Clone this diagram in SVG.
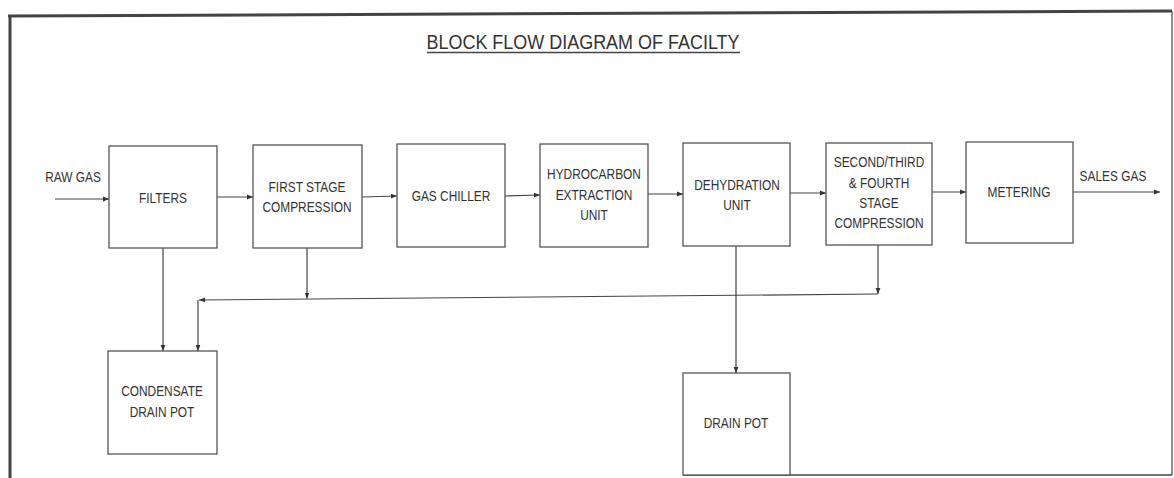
<svg xmlns="http://www.w3.org/2000/svg" width="1174" height="478" viewBox="0 0 1174 478">
<style>
  .box { fill: #ffffff; stroke: #555555; stroke-width: 1.3; }
  .lbl { font-family: "Liberation Sans", Arial, sans-serif; font-size: 14px; fill: #333333; text-anchor: middle; }
  .conn { fill: none; stroke: #444444; stroke-width: 1.2; marker-end: url(#arr); }
  .frame { fill: none; stroke: #444444; }
</style>
<defs>
  <marker id="arr" viewBox="0 0 10 10" refX="10" refY="5" markerWidth="6" markerHeight="6" markerUnits="userSpaceOnUse" orient="auto">
    <path d="M0,1 L10,5 L0,9 Z" fill="#333333"/>
  </marker>
</defs>
<rect width="1174" height="478" fill="#ffffff"/>
<g id="frame">
  <line class="frame" x1="8" y1="16" x2="1172" y2="11" stroke-width="3"/>
  <line class="frame" x1="10" y1="15" x2="10" y2="478" stroke-width="3"/>
  <line class="frame" x1="1172" y1="11" x2="1172" y2="475" stroke-width="1.2"/>
  <line class="frame" x1="683" y1="475" x2="1172" y2="475" stroke-width="1.5"/>
</g>
<g id="title">
  <text x="583" y="49" font-family="Liberation Sans, Arial, sans-serif" font-size="19.5" fill="#333333" text-anchor="middle" textLength="313" lengthAdjust="spacingAndGlyphs">BLOCK FLOW DIAGRAM OF FACILTY</text>
  <line x1="427" y1="52.5" x2="740" y2="52.5" stroke="#444444" stroke-width="1.3"/>
</g>
<g id="connectors">
  <line class="conn" x1="55" y1="199" x2="109" y2="199"/>
  <line class="conn" x1="217" y1="197" x2="253" y2="197"/>
  <line class="conn" x1="362" y1="197" x2="397" y2="196"/>
  <line class="conn" x1="505" y1="196" x2="540" y2="195"/>
  <line class="conn" x1="648" y1="194" x2="683" y2="194"/>
  <line class="conn" x1="790" y1="193" x2="826" y2="193"/>
  <line class="conn" x1="932" y1="192" x2="966" y2="192"/>
  <line class="conn" x1="1073" y1="192" x2="1160" y2="192"/>
  <line class="conn" x1="163" y1="248" x2="163" y2="351"/>
  <line class="conn" x1="307" y1="248" x2="307" y2="298.5"/>
  <line class="conn" x1="878" y1="245" x2="878" y2="294"/>
  <line class="conn" x1="878" y1="294" x2="199" y2="300"/>
  <line class="conn" x1="198" y1="300" x2="198" y2="351"/>
  <line class="conn" x1="736" y1="246" x2="736" y2="373"/>
</g>
<g id="raw-gas">
  <text class="lbl" transform="translate(73,182) scale(0.85,1)">RAW GAS</text>
</g>
<g id="sales-gas">
  <text class="lbl" transform="translate(1113,181) scale(0.85,1)">SALES GAS</text>
</g>
<g id="filters">
  <rect class="box" x="109" y="146" width="108" height="102"/>
  <text class="lbl" transform="translate(163,203) scale(0.85,1)">FILTERS</text>
</g>
<g id="first-stage-compression">
  <rect class="box" x="253" y="145" width="109" height="103"/>
  <text class="lbl" transform="translate(307,192) scale(0.85,1)">FIRST STAGE</text>
  <text class="lbl" transform="translate(307,212) scale(0.85,1)">COMPRESSION</text>
</g>
<g id="gas-chiller">
  <rect class="box" x="397" y="144" width="108" height="103"/>
  <text class="lbl" transform="translate(451,201) scale(0.85,1)">GAS CHILLER</text>
</g>
<g id="hydrocarbon-extraction-unit">
  <rect class="box" x="540" y="144" width="108" height="103"/>
  <text class="lbl" transform="translate(594,179) scale(0.85,1)">HYDROCARBON</text>
  <text class="lbl" transform="translate(594,200) scale(0.85,1)">EXTRACTION</text>
  <text class="lbl" transform="translate(594,220) scale(0.85,1)">UNIT</text>
</g>
<g id="dehydration-unit">
  <rect class="box" x="683" y="143" width="107" height="103"/>
  <text class="lbl" transform="translate(737,190) scale(0.85,1)">DEHYDRATION</text>
  <text class="lbl" transform="translate(737,210) scale(0.85,1)">UNIT</text>
</g>
<g id="second-third-fourth-stage-compression">
  <rect class="box" x="826" y="143" width="106" height="102"/>
  <text class="lbl" transform="translate(879,167) scale(0.85,1)">SECOND/THIRD</text>
  <text class="lbl" transform="translate(879,188) scale(0.85,1)">&amp; FOURTH</text>
  <text class="lbl" transform="translate(879,208) scale(0.85,1)">STAGE</text>
  <text class="lbl" transform="translate(879,228) scale(0.85,1)">COMPRESSION</text>
</g>
<g id="metering">
  <rect class="box" x="966" y="142" width="107" height="101"/>
  <text class="lbl" transform="translate(1019,197) scale(0.85,1)">METERING</text>
</g>
<g id="condensate-drain-pot">
  <rect class="box" x="108" y="351" width="109" height="103"/>
  <text class="lbl" transform="translate(162,396) scale(0.85,1)">CONDENSATE</text>
  <text class="lbl" transform="translate(162,417) scale(0.85,1)">DRAIN POT</text>
</g>
<g id="drain-pot">
  <rect class="box" x="683" y="373" width="107" height="102"/>
  <text class="lbl" transform="translate(736,428) scale(0.85,1)">DRAIN POT</text>
</g>
</svg>
